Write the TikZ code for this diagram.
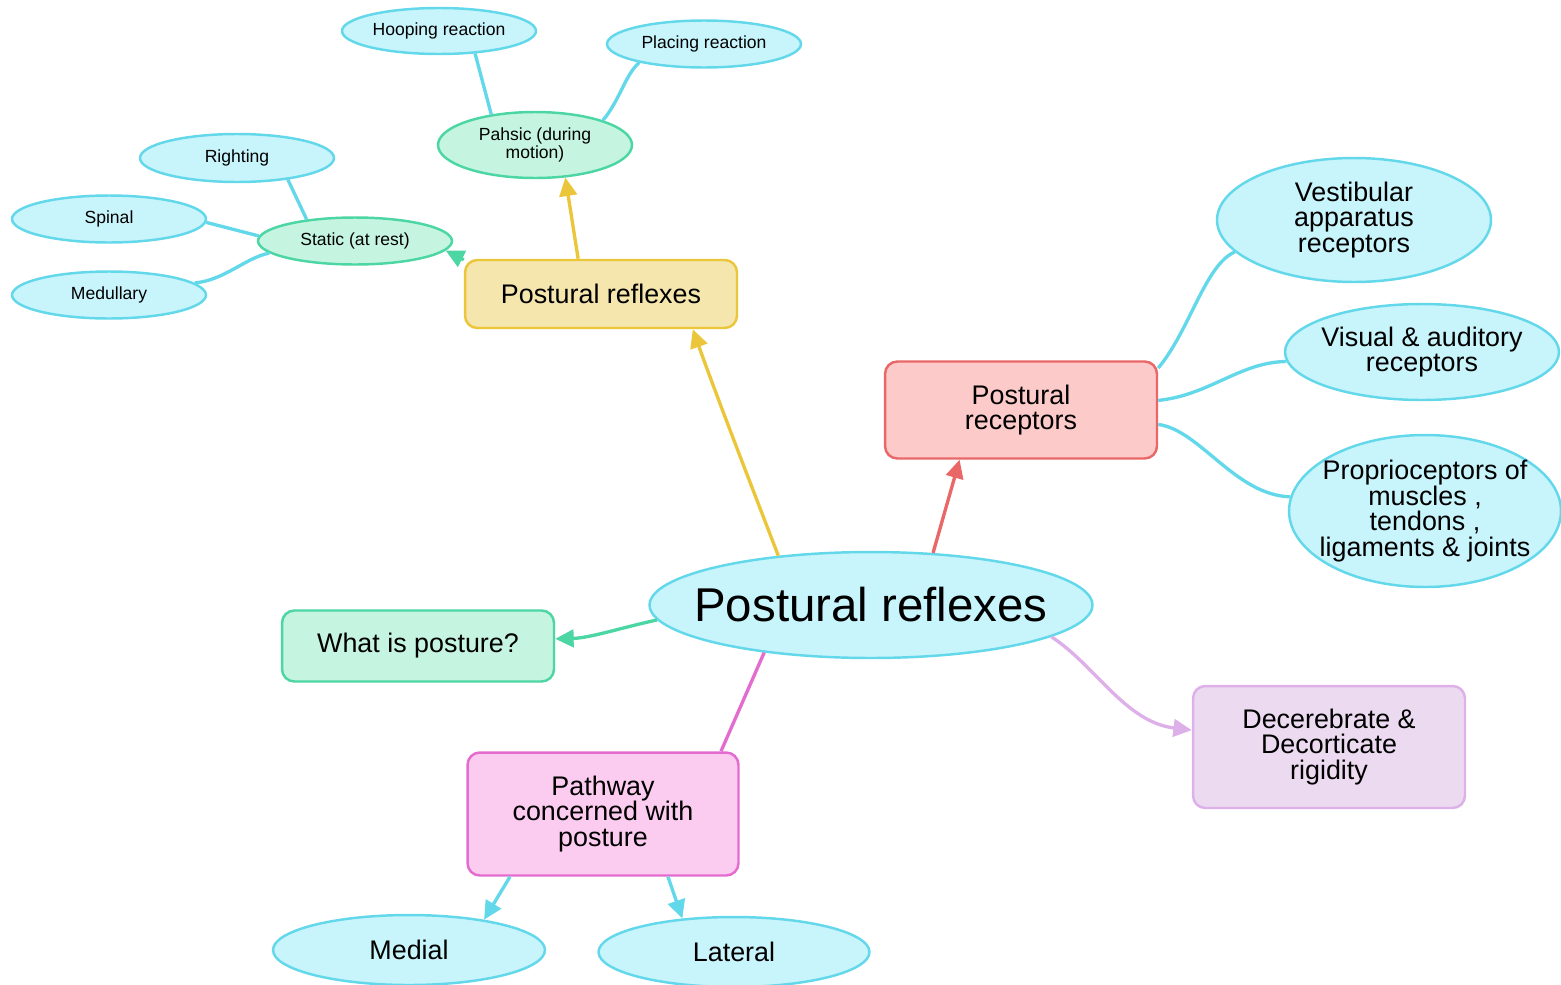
\documentclass[tikz,border=0pt]{standalone}
\usepackage{fontspec}
\setmainfont{Liberation Sans}
\usetikzlibrary{shapes.geometric,arrows.meta}
\definecolor{cyfill}{HTML}{C8F4FB}
\definecolor{cyline}{HTML}{62D8EA}
\definecolor{grfill}{HTML}{C5F5E0}
\definecolor{grline}{HTML}{4CD6A4}
\definecolor{yefill}{HTML}{F5E6AD}
\definecolor{yeline}{HTML}{EBC63A}
\definecolor{refill}{HTML}{FDCACA}
\definecolor{reline}{HTML}{EA6767}
\definecolor{pifill}{HTML}{FCCBF0}
\definecolor{piline}{HTML}{E46CCF}
\definecolor{pufill}{HTML}{ECDAF0}
\definecolor{puline}{HTML}{DDB0EA}
\begin{document}
\begin{tikzpicture}[x=0.02cm,y=-0.02cm,
  ell/.style={ellipse,draw=cyline,fill=cyfill,line width=1.4pt,inner sep=0pt},
  gell/.style={ellipse,draw=grline,fill=grfill,line width=1.4pt,inner sep=0pt},
  rbox/.style={rectangle,rounded corners=7pt,line width=1.4pt,inner sep=0pt,align=center,minimum width=5.44cm},
  txt/.style={inner sep=0pt,align=center},
  small/.style={font=\fontsize{10}{10.4}\selectfont},
  med/.style={font=\fontsize{15.3}{14.6}\selectfont},
  conn/.style={line width=1.9pt},
  tip/.style={-{Triangle[length=10.5pt,width=10pt]}}
]
\useasboundingbox (0,0) rectangle (1561,984);

% ellipse shapes
\node[ell,minimum width=8.86cm,minimum height=2.12cm] (c) at (871,605) {};
\node[gell,minimum width=3.88cm,minimum height=0.94cm] (st) at (355,241) {};
\node[gell,minimum width=3.88cm,minimum height=1.32cm] (ph) at (535,145) {};
\node[ell,minimum width=3.88cm,minimum height=0.96cm] (rt) at (237,158) {};
\node[ell,minimum width=3.88cm,minimum height=0.94cm] (sp) at (109,219) {};
\node[ell,minimum width=3.88cm,minimum height=0.94cm] (medul) at (109,295) {};
\node[ell,minimum width=3.88cm,minimum height=0.92cm] (hp) at (439,31) {};
\node[ell,minimum width=3.88cm,minimum height=0.94cm] (pl) at (704,44) {};
\node[ell,minimum width=5.48cm,minimum height=2.48cm] (vs) at (1354,220) {};
\node[ell,minimum width=5.48cm,minimum height=1.92cm] (vi) at (1422,352) {};
\node[ell,minimum width=5.44cm,minimum height=3.04cm] (pp) at (1425,511) {};
\node[ell,minimum width=5.44cm,minimum height=1.40cm] (medial) at (409,950) {};
\node[ell,minimum width=5.42cm,minimum height=1.40cm] (lt) at (734,952) {};

% ellipse texts
\node[txt,font=\fontsize{27}{28}\selectfont] (c-t) at (c) {Postural reflexes};
\node[txt,small] (st-t) at (st) {Static (at rest)};
\node[txt,small] (ph-t) at (ph) {Pahsic (during\\motion)};
\node[txt,small] (rt-t) at (rt) {Righting};
\node[txt,small] (sp-t) at (sp) {Spinal};
\node[txt,small] (medul-t) at (medul) {Medullary};
\node[txt,small] (hp-t) at (hp) {Hooping reaction};
\node[txt,small] (pl-t) at (pl) {Placing reaction};
\node[txt,med] (vs-t) at (vs) {Vestibular\\apparatus\\receptors};
\node[txt,med] (vi-t) at (vi) {Visual \& auditory\\receptors};
\node[txt,med] (pp-t) at (pp) {Proprioceptors of\\muscles ,\\tendons ,\\ligaments \& joints};
\node[txt,med] (medial-t) at (medial) {Medial};
\node[txt,med] (lt-t) at (lt) {Lateral};

% boxes
\node[rbox,draw=yeline,fill=yefill,med,minimum height=1.36cm] (yb) at (601,294) {Postural reflexes};
\node[rbox,draw=reline,fill=refill,med,minimum height=1.94cm] (rb) at (1021,410) {Postural\\receptors};
\node[rbox,draw=grline,fill=grfill,med,minimum height=1.42cm] (wp) at (418,646) {What is posture?};
\node[rbox,draw=piline,fill=pifill,med,minimum height=2.46cm,minimum width=5.42cm] (pw) at (603,814) {Pathway\\concerned with\\posture};
\node[rbox,draw=puline,fill=pufill,med,minimum height=2.44cm] (db) at (1329,747) {Decerebrate \&\\Decorticate\\rigidity};

% connectors
\draw[conn,tip,draw=yeline] (c.152) .. controls (755,495) and (718,400) .. (yb.-21);
\draw[conn,tip,draw=grline] (yb.166) -- (st.-6);
\draw[conn,tip,draw=yeline] (yb.123) -- (ph.-47);
\draw[conn,draw=cyline] (st.156) -- (rt.-23);
\draw[conn,draw=cyline] (st.177) -- (sp.-2);
\draw[conn,draw=cyline] (st.188) .. controls (245,258) and (225,280) .. (medul.8);
\draw[conn,draw=cyline] (ph.145) -- (hp.-32);
\draw[conn,draw=cyline] (ph.20) .. controls (620,100) and (625,75) .. (pl.196);
\draw[conn,tip,draw=reline] (c.40) -- (rb.-141);
\draw[conn,draw=cyline] (rb.17) .. controls (1190,330) and (1205,265) .. (vs.195);
\draw[conn,draw=cyline] (rb.4) .. controls (1210,395) and (1240,362) .. (vi.184);
\draw[conn,draw=cyline] (rb.-6) .. controls (1200,430) and (1235,495) .. (pp.174);
\draw[conn,tip,draw=grline] (c.184) .. controls (620,628) and (590,638) .. (wp.3);
\draw[conn,draw=piline] (c.204) -- (pw.28);
\draw[conn,tip,draw=puline] (c.-10) .. controls (1095,665) and (1125,722) .. (db.173);
\draw[conn,tip,draw=cyline] (pw.214) -- (medial.22);
\draw[conn,tip,draw=cyline] (pw.-44) -- (lt.147);
\end{tikzpicture}
\end{document}
